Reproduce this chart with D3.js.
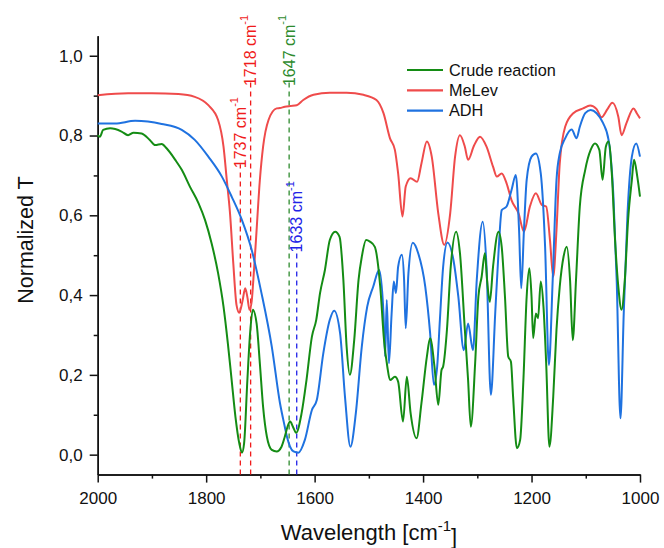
<!DOCTYPE html>
<html><head><meta charset="utf-8">
<script src="https://cdn.jsdelivr.net/npm/d3@7"></script>
<style>body{margin:0;background:#fff}svg{display:block;font-family:"Liberation Sans",Arial,sans-serif}</style>
</head><body><svg id="c" width="664" height="548"></svg>
<script>
const seriesNames = ["Crude reaction", "MeLev", "ADH"];
const seriesColors = ["#148c14", "#ef4b4b", "#1f72e0"];

// [wavenumber, normalized T]
const crude = [[2000,.801],[1996,.797],[1990,.814],[1977,.818],[1956,.810],[1944,.801],[1934,.807],[1919,.805],[1904,.789],[1894,.776],[1882,.779],[1873,.768],[1857,.739],[1845,.714],[1830,.672],[1814,.630],[1802,.588],[1790,.530],[1778,.455],[1768,.371],[1760,.279],[1753,.187],[1746,.095],[1739,.029],[1734,.005],[1730,.029],[1724,.187],[1719,.304],[1714,.363],[1707,.329],[1701,.229],[1695,.120],[1688,.045],[1679,.012],[1670,.008],[1661,.020],[1655,.045],[1650,.070],[1645,.083],[1640,.070],[1634,.055],[1624,.104],[1615,.187],[1605,.296],[1597,.338],[1590,.405],[1581,.463],[1572,.538],[1562,.559],[1554,.546],[1547,.438],[1541,.271],[1535,.200],[1527,.287],[1519,.438],[1513,.496],[1505,.538],[1498,.534],[1489,.521],[1479,.421],[1472,.287],[1466,.221],[1461,.187],[1452,.195],[1446,.183],[1437,.083],[1430,.195],[1423,.104],[1412,.041],[1403,.129],[1393,.246],[1387,.292],[1379,.221],[1372,.125],[1366,.212],[1363,.221],[1356,.313],[1349,.471],[1339,.559],[1332,.505],[1323,.313],[1317,.187],[1312,.070],[1304,.229],[1298,.396],[1292,.446],[1286,.505],[1282,.438],[1277,.383],[1271,.471],[1261,.559],[1255,.521],[1249,.396],[1243,.246],[1238,.233],[1234,.145],[1227,.016],[1221,.037],[1215,.187],[1209,.396],[1204,.467],[1200,.396],[1197,.292],[1192,.354],[1188,.342],[1183,.434],[1178,.371],[1173,.229],[1167,.020],[1160,.145],[1154,.313],[1148,.421],[1141,.496],[1135,.521],[1129,.438],[1124,.287],[1118,.438],[1111,.622],[1101,.714],[1091,.764],[1083,.780],[1075,.764],[1069,.689],[1063,.772],[1058,.785],[1052,.705],[1046,.538],[1040,.421],[1034,.363],[1028,.438],[1022,.588],[1015,.689],[1011,.739],[1005,.697],[1000,.647]];

const melev = [[2000,.901],[1944,.906],[1900,.906],[1851,.904],[1821,.897],[1796,.876],[1778,.839],[1768,.772],[1762,.689],[1756,.605],[1750,.480],[1744,.375],[1739,.356],[1733,.385],[1728,.417],[1724,.395],[1720,.363],[1716,.385],[1713,.438],[1707,.563],[1701,.688],[1695,.772],[1685,.839],[1670,.868],[1664,.869],[1655,.872],[1645,.874],[1633,.876],[1621,.889],[1602,.902],[1572,.907],[1541,.907],[1510,.902],[1486,.889],[1473,.856],[1461,.793],[1452,.764],[1446,.705],[1438,.597],[1432,.672],[1423,.693],[1411,.684],[1403,.730],[1393,.785],[1384,.747],[1372,.605],[1361,.526],[1350,.605],[1341,.747],[1332,.801],[1323,.772],[1317,.739],[1306,.775],[1295,.797],[1283,.772],[1271,.722],[1264,.697],[1255,.705],[1246,.680],[1237,.638],[1224,.605],[1214,.559],[1203,.622],[1192,.655],[1181,.626],[1173,.622],[1166,.538],[1160,.446],[1154,.563],[1148,.730],[1138,.822],[1123,.856],[1105,.868],[1092,.875],[1080,.866],[1071,.846],[1060,.866],[1051,.882],[1040,.847],[1034,.801],[1025,.831],[1012,.868],[1006,.856],[1000,.843]];

const adh = [[2000,.830],[1968,.830],[1931,.837],[1882,.829],[1845,.814],[1821,.789],[1796,.747],[1771,.697],[1753,.647],[1734,.588],[1716,.513],[1698,.405],[1679,.271],[1664,.130],[1655,.070],[1651,.045],[1639,.008],[1630,.005],[1618,.037],[1605,.112],[1596,.137],[1584,.254],[1572,.338],[1564,.361],[1553,.304],[1544,.145],[1534,.020],[1524,.104],[1513,.271],[1503,.371],[1492,.421],[1481,.463],[1473,.354],[1470,.246],[1467,.388],[1463,.229],[1458,.354],[1454,.434],[1450,.405],[1446,.471],[1439,.501],[1435,.438],[1432,.317],[1427,.455],[1419,.531],[1409,.505],[1396,.421],[1387,.304],[1380,.175],[1374,.221],[1369,.338],[1363,.471],[1355,.532],[1344,.488],[1335,.396],[1325,.262],[1317,.329],[1308,.262],[1301,.438],[1290,.584],[1283,.471],[1275,.150],[1267,.354],[1261,.505],[1255,.613],[1246,.622],[1237,.663],[1229,.701],[1223,.563],[1219,.417],[1214,.563],[1209,.688],[1200,.747],[1192,.755],[1183,.705],[1175,.521],[1168,.225],[1161,.438],[1154,.688],[1148,.755],[1138,.793],[1126,.815],[1117,.793],[1111,.822],[1101,.856],[1091,.864],[1080,.856],[1068,.831],[1058,.789],[1049,.647],[1043,.438],[1036,.091],[1030,.354],[1023,.605],[1015,.747],[1007,.780],[1000,.747]];

const peakWn = [1737, 1718, 1647, 1633];
const peakLabels = ["1737 cm", "1718 cm", "1647 cm", "1633 cm"];
const peakColors = ["#f01c1c", "#f01c1c", "#2e8b2e", "#2222e8"];
const peakLabelT = [0.718, 0.924, 0.924, 0.507];

const xMajorTicks = [2000, 1800, 1600, 1400, 1200, 1000];
const xMinorTicks = [1900, 1700, 1500, 1300, 1100];
const yMajorTicks = [0, 0.2, 0.4, 0.6, 0.8, 1.0];
const yMinorTicks = [0.1, 0.3, 0.5, 0.7, 0.9];

const svg = d3.select("#c");
const x = d3.scaleLinear().domain([2000, 1000]).range([97.7, 640]);
const y = d3.scaleLinear().domain([-0.05, 1.05]).range([474.6, 35.8]);
const fmtY = d => d3.format(".1f")(d).replace(".", ",");

// axes
const gxMinor = svg.append("g").attr("transform", `translate(0,${y(-0.05)})`)
  .call(d3.axisBottom(x).tickValues(xMinorTicks).tickSize(4).tickSizeOuter(0).tickFormat(""));
const gx = svg.append("g").attr("transform", `translate(0,${y(-0.05)})`)
  .call(d3.axisBottom(x).tickValues(xMajorTicks).tickSize(8).tickSizeOuter(0).tickPadding(9).tickFormat(d3.format("d")));
const gyMinor = svg.append("g").attr("transform", `translate(${x(2000)},0)`)
  .call(d3.axisLeft(y).tickValues(yMinorTicks).tickSize(4).tickSizeOuter(0).tickFormat(""));
const gy = svg.append("g").attr("transform", `translate(${x(2000)},0)`)
  .call(d3.axisLeft(y).tickValues(yMajorTicks).tickSize(8).tickSizeOuter(0).tickPadding(7).tickFormat(fmtY));
[gxMinor, gx, gyMinor, gy].forEach(g => {
  g.selectAll("path,line").attr("stroke", "#111").attr("stroke-width", 1.5);
  g.selectAll("text").attr("font-size", 17).attr("fill", "#111").attr("font-family", '"Liberation Sans",Arial,sans-serif');
});

// peak markers
peakWn.forEach((w, i) => {
  const top = y(peakLabelT[i]);
  svg.append("line").attr("x1", x(w)).attr("x2", x(w))
    .attr("y1", y(-0.05)).attr("y2", top - 4)
    .attr("stroke", peakColors[i]).attr("stroke-width", 1.3).attr("stroke-dasharray", "5,4");
  const t = svg.append("text").attr("transform", `translate(${x(w)},${top}) rotate(-90)`)
    .attr("dy", "0.35em").attr("font-size", 16).attr("fill", peakColors[i]);
  t.append("tspan").text(peakLabels[i]);
  t.append("tspan").attr("font-size", 11).attr("dy", "-0.75em").text("-1");
});

// series
const line = d3.line().x(d => x(d[0])).y(d => y(d[1])).curve(d3.curveMonotoneX);
const allSeries = [crude, melev, adh];
[1, 2, 0].forEach(i => {
  svg.append("path").datum(allSeries[i]).attr("d", line)
    .attr("fill", "none").attr("stroke", seriesColors[i]).attr("stroke-width", 2).attr("stroke-linejoin", "round");
});

// legend
seriesNames.forEach((n, i) => {
  const ly = 70 + i * 20.3;
  svg.append("line").attr("x1", 407).attr("x2", 443).attr("y1", ly).attr("y2", ly)
    .attr("stroke", seriesColors[i]).attr("stroke-width", 2.2);
  svg.append("text").attr("x", 449).attr("y", ly).attr("dy", "0.35em").attr("font-size", 16.3).attr("fill", "#111").text(n);
});

// axis titles
const xt = svg.append("text").attr("x", 369).attr("y", 540).attr("text-anchor", "middle").attr("font-size", 22).attr("fill", "#111");
xt.append("tspan").text("Wavelength [cm");
xt.append("tspan").attr("font-size", 15).attr("dy", "-0.6em").text("-1");
xt.append("tspan").attr("dy", "0.6em").attr("font-size", 22).text("]");
svg.append("text").attr("transform", "translate(33,240) rotate(-90)").attr("text-anchor", "middle")
  .attr("font-size", 21.5).attr("fill", "#111").text("Normalized T");
</script></body></html>
